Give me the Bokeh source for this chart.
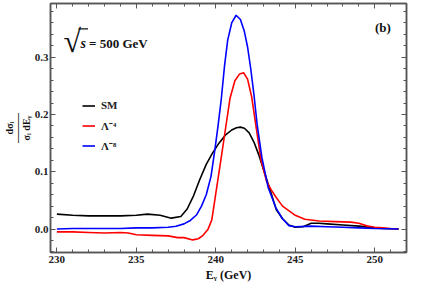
from bokeh.plotting import figure
from bokeh.models import (Label, Legend, LegendItem, LinearAxis, SingleIntervalTicker,
                          PrintfTickFormatter, CustomJSTickFormatter, BoxAnnotation, Range1d)
from bokeh.embed import file_html
from bokeh.resources import INLINE

# ---- data ----
sm_x = [230, 231, 232, 233, 234, 235, 235.7, 236.5, 237.2, 237.8, 238.2, 238.6, 239.0, 239.4,
        239.8, 240.2, 240.6, 241.0, 241.3, 241.55, 241.8, 242.1, 242.4, 242.7, 243.0, 243.4,
        243.8, 244.2, 244.6, 245.0, 245.5, 246.0, 246.5, 247.0, 248.0, 249.0, 250.0, 250.5,
        251.0, 251.5]
sm_y = [0.026, 0.024, 0.023, 0.023, 0.023, 0.024, 0.026, 0.024, 0.019, 0.022, 0.035, 0.058,
        0.087, 0.113, 0.133, 0.150, 0.164, 0.173, 0.177, 0.178, 0.176, 0.168, 0.152, 0.130,
        0.104, 0.070, 0.034, 0.018, 0.007, 0.003, 0.004, 0.010, 0.010, 0.009, 0.007, 0.005,
        0.002, 0.001, 0.0005, 0.0]

l4_x = [230, 231, 232, 233, 234, 234.5, 235, 236, 237, 237.6, 238.0, 238.55, 238.9, 239.2,
        239.5, 239.75, 240.0, 240.3, 240.6, 240.9, 241.2, 241.5, 241.75, 242.0, 242.25, 242.55,
        242.85, 243.2, 243.5, 243.8, 244.2, 244.7, 245.0, 245.6, 246.5, 247.5, 248.5, 249.0,
        249.5, 250.0, 250.5, 251.0, 251.5]
l4_y = [-0.005, -0.005, -0.006, -0.007, -0.006, -0.007, -0.010, -0.011, -0.012, -0.015, -0.015,
        -0.019, -0.017, -0.011, -0.001, 0.016, 0.062, 0.117, 0.173, 0.229, 0.259, 0.271, 0.273,
        0.262, 0.232, 0.176, 0.120, 0.083, 0.068, 0.055, 0.040, 0.030, 0.024, 0.017, 0.014,
        0.013, 0.012, 0.010, 0.0055, 0.003, 0.002, 0.001, 0.0005]

l8_x = [230, 231, 232, 233, 234, 235, 236, 237, 237.5, 238.0, 238.4, 238.8, 239.1, 239.4,
        239.7, 239.95, 240.15, 240.35, 240.55, 240.75, 241.0, 241.28, 241.55, 241.8, 242.0,
        242.2, 242.4, 242.6, 242.9, 243.3, 243.8, 244.2, 244.6, 245.0, 246.0, 247.0, 248.0,
        249.0, 250.0, 251.0, 251.5]
l8_y = [0.0, 0.001, 0.001, 0.001, 0.001, 0.002, 0.002, 0.003, 0.005, 0.009, 0.015, 0.025,
        0.040, 0.060, 0.092, 0.140, 0.182, 0.228, 0.285, 0.330, 0.360, 0.3735, 0.366, 0.345,
        0.318, 0.280, 0.235, 0.183, 0.125, 0.072, 0.036, 0.018, 0.006, 0.004, 0.005, 0.004,
        0.003, 0.002, 0.001, 0.0005, 0.0]

x_ticks_interval = 5
y_ticks_interval = 0.1
legend_labels = ["SM", "Λ⁻⁴", "Λ⁻⁸"]
colors = ["black", "#ff0000", "#0000ff"]

FONT = "Liberation Serif"
FRAME = "#555555"

p = figure(width=409, height=284,
           x_range=Range1d(229.6, 252.0), y_range=Range1d(-0.041, 0.394),
           output_backend="svg", toolbar_location=None,
           min_border_left=48, min_border_right=3, min_border_top=3, min_border_bottom=28)
p.xgrid.visible = False
p.ygrid.visible = False
p.outline_line_color = FRAME
p.outline_line_width = 1.5
p.background_fill_color = "white"
p.border_fill_color = "white"

def style_axis(ax, show_labels=True):
    ax.axis_line_color = FRAME
    ax.axis_line_width = 1.5
    ax.major_tick_line_color = FRAME
    ax.minor_tick_line_color = FRAME
    ax.major_tick_in = 5
    ax.major_tick_out = 0
    ax.minor_tick_in = 3
    ax.minor_tick_out = 0
    ax.major_label_text_font = FONT
    ax.major_label_text_font_style = "bold"
    ax.major_label_text_color = "#222222"
    ax.major_label_text_font_size = "11px"
    ax.major_label_standoff = 2 if show_labels else 0
    if not show_labels:
        ax.formatter = CustomJSTickFormatter(code="return ''")

xax = p.below[0]
yax = p.left[0]
xax.ticker = SingleIntervalTicker(interval=x_ticks_interval, num_minor_ticks=5)
yax.ticker = SingleIntervalTicker(interval=y_ticks_interval, num_minor_ticks=5)
xax.formatter = PrintfTickFormatter(format="%d")
yax.formatter = PrintfTickFormatter(format="%.1f")
style_axis(xax)
style_axis(yax)
xax.major_label_standoff = 3

# axis titles (only on the bottom / left axes)
xax.axis_label = "Eᵧ (GeV)"
xax.axis_label_text_font = FONT
xax.axis_label_text_font_style = "bold"
xax.axis_label_text_font_size = "12px"
xax.axis_label_text_color = "#111111"
xax.axis_label_standoff = 2

yax.axis_label = "dσᵢ\n―――\nσᵢ dEᵧ"
yax.axis_label_text_font = FONT
yax.axis_label_text_font_style = "bold"
yax.axis_label_text_font_size = "10px"
yax.axis_label_text_color = "#111111"
yax.axis_label_text_line_height = 0.78
yax.axis_label_standoff = 0

top_ax = LinearAxis(ticker=SingleIntervalTicker(interval=x_ticks_interval, num_minor_ticks=5))
right_ax = LinearAxis(ticker=SingleIntervalTicker(interval=y_ticks_interval, num_minor_ticks=5))
style_axis(top_ax, False)
style_axis(right_ax, False)
p.add_layout(top_ax, "above")
p.add_layout(right_ax, "right")

r_sm = p.line(sm_x, sm_y, line_color=colors[0], line_width=1.6)
r_l4 = p.line(l4_x, l4_y, line_color=colors[1], line_width=1.6)
r_l8 = p.line(l8_x, l8_y, line_color=colors[2], line_width=1.6)

legend = Legend(items=[LegendItem(label=legend_labels[0], renderers=[r_sm]),
                       LegendItem(label=legend_labels[1], renderers=[r_l4]),
                       LegendItem(label=legend_labels[2], renderers=[r_l8])],
                location=(32, 98.5), orientation="vertical",
                glyph_width=13, glyph_height=17, label_height=17, spacing=3,
                label_standoff=6, padding=0, margin=0,
                border_line_color=None, background_fill_alpha=0,
                label_text_font=FONT, label_text_font_style="bold",
                label_text_font_size="11px", label_text_color="#222222")
p.add_layout(legend, "center")

def lab(text, x, y, size, style="bold", baseline="middle"):
    p.add_layout(Label(x=x, y=y, x_units="screen", y_units="screen", text=text,
                       text_font=FONT, text_font_style=style, text_font_size=size,
                       text_color="#111111", text_align="left", text_baseline=baseline))

# panel tag
lab("(b)", 324.5, 225.5, "13px")
# sqrt(s) = 500 GeV
lab("√", 13, 211.5, "32px", style="normal", baseline="alphabetic")
lab("s", 30, 209.3, "14px", style="bold italic")
lab("= 500 GeV", 38.5, 209.3, "13px")
p.add_layout(BoxAnnotation(left=28, right=37.5, bottom=223.0, top=224.2,
                           left_units="screen", right_units="screen",
                           bottom_units="screen", top_units="screen",
                           fill_color="#111111", fill_alpha=1, line_color=None))

open("out.html", "w").write(file_html(p, INLINE))
